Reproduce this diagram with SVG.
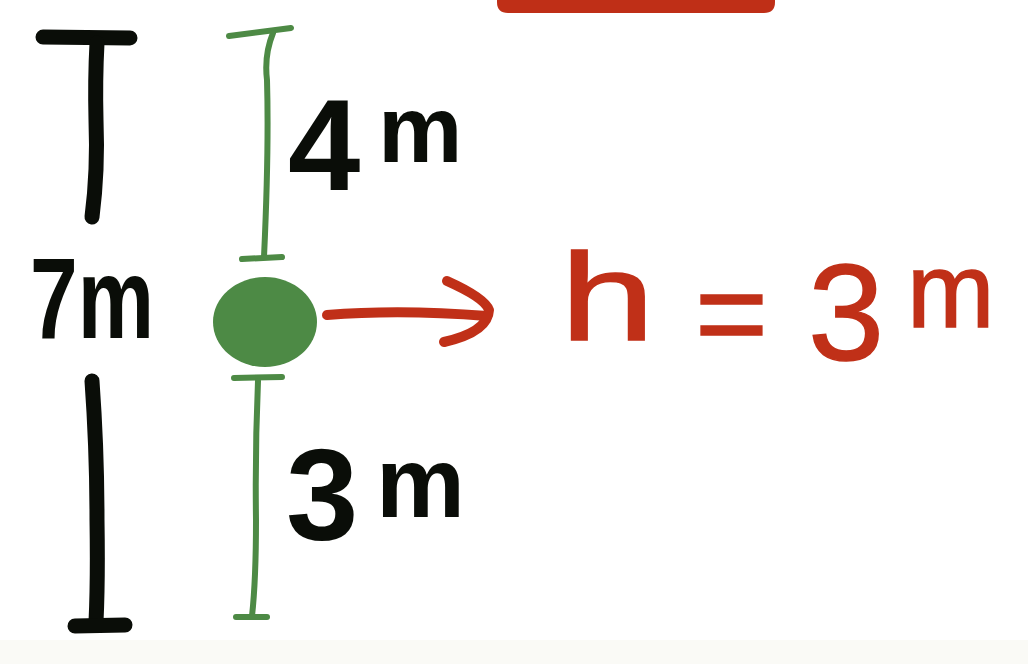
<svg xmlns="http://www.w3.org/2000/svg" width="1028" height="664" viewBox="0 0 1028 664">
<style>
.blk{fill:none;stroke:#0a0d08;stroke-width:15;stroke-linecap:round;stroke-linejoin:round}
.grn{fill:none;stroke:#4d8a45;stroke-width:6;stroke-linecap:round;stroke-linejoin:round}
.red{fill:none;stroke:#c03018;stroke-width:10;stroke-linecap:round;stroke-linejoin:round}
.tb{font-family:"Liberation Sans",Arial,sans-serif;font-weight:bold;fill:#0a0d08}
.tr{font-family:"Liberation Sans",Arial,sans-serif;font-weight:normal;fill:#c03018;stroke:#c03018;stroke-width:1.5}
</style>
<rect x="0" y="0" width="1028" height="664" fill="#ffffff"/>
<rect x="0" y="640" width="1028" height="24" fill="#fafaf6"/>
<g id="top-bar">
<path d="M497 -10 H775 V2 Q775 13 764 13 H508 Q497 13 497 2 Z" fill="#bf2f17"/>
</g>
<g id="dim-total">
<path class="blk" d="M43 37 L130 38"/>
<path class="blk" d="M97 43 Q95 80 96 120 Q98 170 92 217"/>
<path class="blk" d="M92 381 Q97 450 97 520 Q98 580 96 622"/>
<path class="blk" d="M75 626 L125 625"/>
<text class="tb" x="30" y="338" font-size="115" textLength="124" lengthAdjust="spacingAndGlyphs">7m</text>
</g>
<g id="dim-upper">
<path class="grn" d="M229 36 L291 28"/>
<path class="grn" d="M273 33 Q264 55 267 80 Q269 150 264 257"/>
<path class="grn" d="M242 259 L282 257"/>
<text class="tb" font-size="130"><tspan x="288" y="190">4</tspan><tspan x="378" y="162" font-size="95">m</tspan></text>
</g>
<g id="point">
<ellipse cx="265" cy="322" rx="52" ry="45" fill="#4d8a45"/>
</g>
<g id="dim-lower">
<path class="grn" d="M234 378 L282 377"/>
<path class="grn" d="M258 381 Q255 450 256 520 Q256 580 252 616"/>
<path class="grn" d="M236 617 L267 617"/>
<text class="tb" font-size="130"><tspan x="286" y="540">3</tspan><tspan x="376" y="517" font-size="100">m</tspan></text>
</g>
<g id="connectors">
<path class="red" d="M327 315 Q400 309 487 316"/>
<path class="red" d="M447 281 Q485 298 489 310 Q488 332 444 342"/>
</g>
<g id="label-h">
<text class="tr" font-size="125"><tspan x="560" y="340" textLength="95" lengthAdjust="spacingAndGlyphs">h</tspan><tspan x="695" y="356" font-size="125">=</tspan><tspan x="808" y="360" font-size="137">3</tspan><tspan x="907" y="327" font-size="105">m</tspan></text>
</g>
</svg>
